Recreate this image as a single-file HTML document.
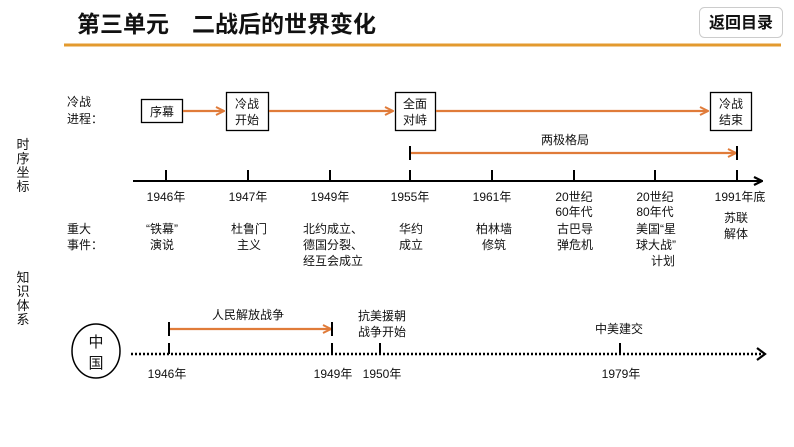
<!DOCTYPE html>
<html><head><meta charset="utf-8"><style>
html,body{margin:0;padding:0;background:#fff;}
svg{display:block;font-family:"Liberation Sans","Noto Sans CJK SC",sans-serif;}
</style></head><body>
<svg width="794" height="447" viewBox="0 0 794 447" xmlns="http://www.w3.org/2000/svg">
<defs>
<marker id="oa" markerWidth="10" markerHeight="10" refX="9" refY="5" orient="auto" markerUnits="userSpaceOnUse"><path d="M1,1 L9,5 L1,9" fill="none" stroke="#E07B39" stroke-width="2"/></marker>
<marker id="ba" markerWidth="10" markerHeight="10" refX="9" refY="5" orient="auto" markerUnits="userSpaceOnUse"><path d="M1,1 L9,5 L1,9" fill="none" stroke="#000" stroke-width="2.2"/></marker>
</defs>
<text x="77" y="32" font-size="23" font-weight="bold" fill="#111">第三单元　二战后的世界变化</text>
<line x1="64" y1="45" x2="781" y2="45" stroke="#E39A2E" stroke-width="3"/>
<rect x="699.5" y="7.5" width="83" height="30" rx="5" fill="#fff" stroke="#ccc"/>
<text x="741" y="28" font-size="16" font-weight="bold" text-anchor="middle" fill="#111">返回目录</text>

<g font-size="12" fill="#111">
<text x="67" y="106">冷战</text><text x="67" y="123">进程：</text>
</g>
<g fill="#fff" stroke="#000" stroke-width="1.3">
<rect x="141.5" y="99.5" width="41" height="23"/>
<rect x="226.5" y="92.5" width="42" height="38"/>
<rect x="395.5" y="92.5" width="40" height="38"/>
<rect x="710.5" y="92.5" width="41" height="38"/>
</g>
<g stroke="#E07B39" stroke-width="2.2" fill="none">
<line x1="183" y1="111" x2="224" y2="111" marker-end="url(#oa)"/>
<line x1="269" y1="111" x2="393" y2="111" marker-end="url(#oa)"/>
<line x1="436" y1="111" x2="708" y2="111" marker-end="url(#oa)"/>
<line x1="410" y1="153" x2="736" y2="153" marker-end="url(#oa)"/>
<line x1="169" y1="329" x2="331" y2="329" marker-end="url(#oa)"/>
</g>
<g font-size="12" fill="#111" text-anchor="middle">
<text x="162" y="116">序幕</text>
<text x="247" y="108">冷战</text><text x="247" y="124">开始</text>
<text x="415" y="108">全面</text><text x="415" y="124">对峙</text>
<text x="731" y="108">冷战</text><text x="731" y="124">结束</text>
<text x="565" y="144">两极格局</text>
</g>
<g stroke="#000" stroke-width="2">
<line x1="410" y1="146" x2="410" y2="160"/><line x1="737" y1="146" x2="737" y2="160"/>
<line x1="133" y1="181" x2="762" y2="181" marker-end="url(#ba)"/>
<line x1="166" y1="170" x2="166" y2="181"/><line x1="248" y1="170" x2="248" y2="181"/>
<line x1="330" y1="170" x2="330" y2="181"/><line x1="410" y1="170" x2="410" y2="181"/>
<line x1="492" y1="170" x2="492" y2="181"/><line x1="574" y1="170" x2="574" y2="181"/>
<line x1="655" y1="170" x2="655" y2="181"/><line x1="737" y1="170" x2="737" y2="181"/>
</g>
<g font-size="12" fill="#111" text-anchor="middle">
<text x="166" y="201">1946年</text><text x="248" y="201">1947年</text>
<text x="330" y="201">1949年</text><text x="410" y="201">1955年</text>
<text x="492" y="201">1961年</text><text x="574" y="201">20世纪</text>
<text x="574" y="216">60年代</text><text x="655" y="201">20世纪</text>
<text x="655" y="216">80年代</text><text x="740" y="201">1991年底</text>
<text x="162" y="233">“铁幕”</text><text x="162" y="249">演说</text>
<text x="249" y="233">杜鲁门</text><text x="249" y="249">主义</text>
<text x="333" y="233">北约成立、</text><text x="333" y="249">德国分裂、</text><text x="333" y="265">经互会成立</text>
<text x="411" y="233">华约</text><text x="411" y="249">成立</text>
<text x="494" y="233">柏林墙</text><text x="494" y="249">修筑</text>
<text x="575" y="233">古巴导</text><text x="575" y="249">弹危机</text>
<text x="656" y="233">美国“星</text><text x="656" y="249">球大战”</text><text x="663" y="265">计划</text>
<text x="736" y="222">苏联</text><text x="736" y="238">解体</text>
</g>
<g font-size="12" fill="#111">
<text x="67" y="233">重大</text><text x="67" y="249">事件：</text>
</g>
<g font-size="13" fill="#111" text-anchor="middle">
<text x="23" y="149">时</text><text x="23" y="163">序</text><text x="23" y="177">坐</text><text x="23" y="191">标</text>
<text x="23" y="282">知</text><text x="23" y="296">识</text><text x="23" y="310">体</text><text x="23" y="324">系</text>
</g>

<ellipse cx="96" cy="351" rx="24" ry="27" fill="#fff" stroke="#000" stroke-width="1.5"/>
<g font-size="15" fill="#111" text-anchor="middle">
<text x="96" y="347">中</text><text x="96" y="368">国</text>
</g>
<line x1="131" y1="354" x2="762" y2="354" stroke="#000" stroke-width="2.5" stroke-dasharray="2,2"/>
<path d="M757,348 L765,354 L757,360" fill="none" stroke="#000" stroke-width="2.2"/>
<g stroke="#000" stroke-width="2">
<line x1="169" y1="322" x2="169" y2="336"/><line x1="332" y1="322" x2="332" y2="336"/>
<line x1="169" y1="343" x2="169" y2="354"/><line x1="332" y1="343" x2="332" y2="354"/>
<line x1="380" y1="343" x2="380" y2="354"/><line x1="620" y1="343" x2="620" y2="354"/>
</g>
<g font-size="12" fill="#111" text-anchor="middle">
<text x="248" y="319">人民解放战争</text>
<text x="382" y="320">抗美援朝</text><text x="382" y="336">战争开始</text>
<text x="619" y="333">中美建交</text>
<text x="167" y="378">1946年</text><text x="333" y="378">1949年</text>
<text x="382" y="378">1950年</text><text x="621" y="378">1979年</text>
</g>
</svg>
</body></html>
